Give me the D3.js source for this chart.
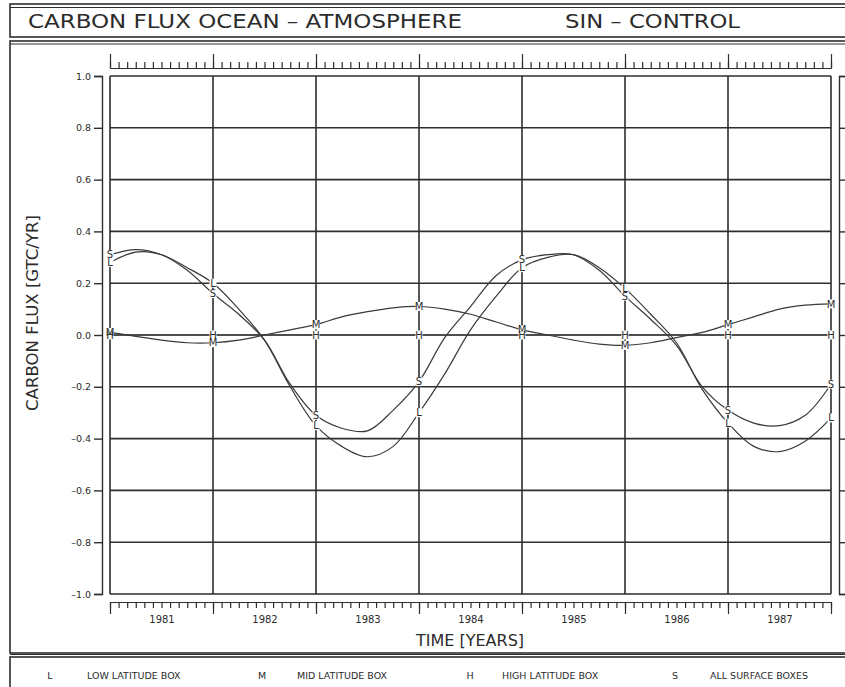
<!DOCTYPE html>
<html>
<head>
<meta charset="utf-8">
<script src="https://cdn.jsdelivr.net/npm/d3@7"></script>
<style>
  body { margin: 0; background: #fff; }
  text { font-family: "DejaVu Sans", sans-serif; fill: #2b2b2b; }
</style>
</head>
<body>
<div id="chart"></div>
<script>
// Time stamps (years, quarterly)
const quarters = [
  1981, 1981.25, 1981.5, 1981.75, 1982, 1982.25, 1982.5, 1982.75,
  1983, 1983.25, 1983.5, 1983.75, 1984, 1984.25, 1984.5, 1984.75,
  1985, 1985.25, 1985.5, 1985.75, 1986, 1986.25, 1986.5, 1986.75,
  1987, 1987.25, 1987.5, 1987.75, 1988
];

// Carbon flux (GtC/yr) per box
const lowLat = [
  0.28, 0.32, 0.31, 0.26, 0.20, 0.10, -0.02, -0.20,
  -0.35, -0.43, -0.47, -0.43, -0.30, -0.15, 0.02, 0.15,
  0.26, 0.30, 0.31, 0.26, 0.18, 0.08, -0.03, -0.21,
  -0.34, -0.43, -0.45, -0.41, -0.32
];
const midLat = [
  0.01, -0.005, -0.02, -0.03, -0.03, -0.02, 0.00, 0.02,
  0.04, 0.07, 0.09, 0.105, 0.11, 0.10, 0.08, 0.05,
  0.02, 0.00, -0.02, -0.035, -0.04, -0.03, -0.01, 0.01,
  0.04, 0.07, 0.10, 0.115, 0.12
];
const highLat = [
  0.00, 0.00, 0.00, 0.00, 0.00, 0.00, 0.00, 0.00,
  0.00, 0.00, 0.00, 0.00, 0.00, 0.00, 0.00, 0.00,
  0.00, 0.00, 0.00, 0.00, 0.00, 0.00, 0.00, 0.00,
  0.00, 0.00, 0.00, 0.00, 0.00
];
const allSurface = [
  0.31, 0.33, 0.31, 0.25, 0.16, 0.08, -0.02, -0.19,
  -0.31, -0.36, -0.37, -0.29, -0.18, -0.01, 0.11, 0.23,
  0.29, 0.31, 0.31, 0.25, 0.15, 0.06, -0.04, -0.20,
  -0.29, -0.34, -0.35, -0.31, -0.19
];

const yearLabels = [1981, 1982, 1983, 1984, 1985, 1986, 1987];
const yearBounds = [1981, 1982, 1983, 1984, 1985, 1986, 1987, 1988];
const yTicks = [1.0, 0.8, 0.6, 0.4, 0.2, 0.0, -0.2, -0.4, -0.6, -0.8, -1.0];

const legendKeys = ["L", "M", "H", "S"];
const legendLabels = ["LOW LATITUDE BOX", "MID LATITUDE BOX", "HIGH LATITUDE BOX", "ALL SURFACE BOXES"];

const series = [
  { key: "H", values: highLat },
  { key: "M", values: midLat },
  { key: "L", values: lowLat },
  { key: "S", values: allSurface }
];

const width = 845;
const height = 687;
const ink = "#2e2e2e";

const svg = d3.select("#chart")
  .append("svg")
  .attr("width", width)
  .attr("height", height);

// Boxes around title, plot and legend
const frame = svg.append("g").attr("fill", "none").attr("stroke", ink);
frame.append("rect").attr("x", 10).attr("y", 4).attr("width", 860).attr("height", 33).attr("stroke-width", 1.6);
frame.append("line").attr("x1", 10).attr("x2", 870).attr("y1", 7.5).attr("y2", 7.5).attr("stroke-width", 1);
frame.append("rect").attr("x", 10).attr("y", 41).attr("width", 860).attr("height", 612).attr("stroke-width", 1.6);
frame.append("line").attr("x1", 10).attr("x2", 870).attr("y1", 44).attr("y2", 44).attr("stroke-width", 1);
frame.append("rect").attr("x", 10).attr("y", 657).attr("width", 860).attr("height", 50).attr("stroke-width", 1.6);
frame.append("line").attr("x1", 10).attr("x2", 870).attr("y1", 654.5).attr("y2", 654.5).attr("stroke-width", 1);

// Title
svg.append("text")
  .attr("x", 28).attr("y", 28)
  .attr("textLength", 434).attr("lengthAdjust", "spacingAndGlyphs")
  .style("font-size", "20px")
  .text("CARBON FLUX OCEAN – ATMOSPHERE");
svg.append("text")
  .attr("x", 565).attr("y", 28)
  .attr("textLength", 175).attr("lengthAdjust", "spacingAndGlyphs")
  .style("font-size", "20px")
  .text("SIN – CONTROL");

// Scales
const x = d3.scaleLinear().domain([1981, 1988]).range([110, 831]);
const y = d3.scaleLinear().domain([-1, 1]).range([594, 76]);

// Grid
const grid = svg.append("g").attr("stroke", ink).attr("stroke-width", 1.6);
grid.selectAll(".hgrid")
  .data(yTicks)
  .join("line")
  .attr("class", "hgrid")
  .attr("x1", x(1981)).attr("x2", x(1988))
  .attr("y1", d => y(d)).attr("y2", d => y(d));
grid.selectAll(".vgrid")
  .data(yearBounds)
  .join("line")
  .attr("class", "vgrid")
  .attr("x1", d => x(d)).attr("x2", d => x(d))
  .attr("y1", y(1)).attr("y2", y(-1));

// Left axis
const leftAxis = d3.axisLeft(y)
  .tickValues(yTicks)
  .tickSize(8)
  .tickPadding(3)
  .tickFormat(d => d3.format(".1f")(d).replace("−", "–"));
const gLeft = svg.append("g")
  .attr("transform", "translate(102,0)")
  .call(leftAxis);
gLeft.selectAll("path, line").attr("stroke", ink).attr("stroke-width", 1.4);
gLeft.selectAll("text")
  .style("font-size", "9.5px")
  .style("font-family", "DejaVu Sans")
  .attr("fill", ink);

// Right axis (no labels)
const gRight = svg.append("g")
  .attr("transform", "translate(839,0)")
  .call(d3.axisRight(y).tickValues(yTicks).tickSize(8).tickFormat(""));
gRight.selectAll("path, line").attr("stroke", ink).attr("stroke-width", 1.4);

// Month ticks for the rulers
const months = d3.range(0, 85).map(i => 1981 + i / 12);

// Top ruler
const gTopMinor = svg.append("g")
  .attr("transform", "translate(0,68)")
  .call(d3.axisTop(x).tickValues(months).tickSize(6).tickSizeOuter(0).tickFormat(""));
const gTopMajor = svg.append("g")
  .attr("transform", "translate(0,68)")
  .call(d3.axisTop(x).tickValues(yearBounds).tickSize(14).tickSizeOuter(0).tickFormat(""));
[gTopMinor, gTopMajor].forEach(g => g.selectAll("path, line").attr("stroke", ink).attr("stroke-width", 1.2));

// Bottom ruler
const gBotMinor = svg.append("g")
  .attr("transform", "translate(0,602)")
  .call(d3.axisBottom(x).tickValues(months).tickSize(6).tickSizeOuter(0).tickFormat(""));
const gBotMajor = svg.append("g")
  .attr("transform", "translate(0,602)")
  .call(d3.axisBottom(x).tickValues(yearBounds).tickSize(12).tickSizeOuter(0).tickFormat(""));
[gBotMinor, gBotMajor].forEach(g => g.selectAll("path, line").attr("stroke", ink).attr("stroke-width", 1.2));

const gYears = svg.append("g")
  .attr("transform", "translate(0,602)")
  .call(d3.axisBottom(x).tickValues(yearLabels.map(d => d + 0.5)).tickSize(0).tickPadding(14)
    .tickFormat(d => String(Math.floor(d))));
gYears.select(".domain").remove();
gYears.selectAll("text")
  .style("font-size", "10px")
  .style("font-family", "DejaVu Sans")
  .attr("fill", ink);

// Axis titles
svg.append("text")
  .attr("x", 470).attr("y", 646)
  .attr("text-anchor", "middle")
  .style("font-size", "16px")
  .text("TIME [YEARS]");
svg.append("text")
  .attr("transform", "translate(38,313) rotate(-90)")
  .attr("text-anchor", "middle")
  .attr("textLength", 196).attr("lengthAdjust", "spacingAndGlyphs")
  .style("font-size", "15px")
  .text("CARBON FLUX [GTC/YR]");

// Curves
const line = d3.line()
  .x((d, i) => x(quarters[i]))
  .y(d => y(d))
  .curve(d3.curveCatmullRom.alpha(0.5));

svg.selectAll(".flux-line")
  .data(series)
  .join("path")
  .attr("class", "flux-line")
  .attr("fill", "none")
  .attr("stroke", "#3a3a3a")
  .attr("stroke-width", 1.2)
  .attr("d", d => line(d.values));

// Letter markers at each year boundary: white patches first, then letters
const markerPts = series.flatMap(s => quarters
  .map((t, i) => ({ key: s.key, t, v: s.values[i] }))
  .filter(p => Number.isInteger(p.t)));

svg.selectAll(".marker-bg")
  .data(markerPts)
  .join("rect")
  .attr("class", "marker-bg")
  .attr("x", d => x(d.t) - 3.5)
  .attr("y", d => y(d.v) - 4.5)
  .attr("width", 7)
  .attr("height", 9)
  .attr("fill", "#fff");

svg.selectAll(".marker")
  .data(markerPts)
  .join("text")
  .attr("class", "marker")
  .attr("x", d => x(d.t))
  .attr("y", d => y(d.v))
  .attr("dy", "0.36em")
  .attr("text-anchor", "middle")
  .attr("fill", ink)
  .style("font-size", "10px")
  .text(d => d.key);

// Legend
const legendX = [50, 262, 470, 675];
const labelX = [87, 297, 502, 710];
const legend = svg.append("g");
legendKeys.forEach((k, i) => {
  legend.append("text")
    .attr("x", legendX[i]).attr("y", 679)
    .attr("text-anchor", "middle")
    .style("font-size", "9.5px")
    .text(k);
  legend.append("text")
    .attr("x", labelX[i]).attr("y", 679)
    .style("font-size", "9.5px")
    .text(legendLabels[i]);
});
</script>
</body>
</html>
